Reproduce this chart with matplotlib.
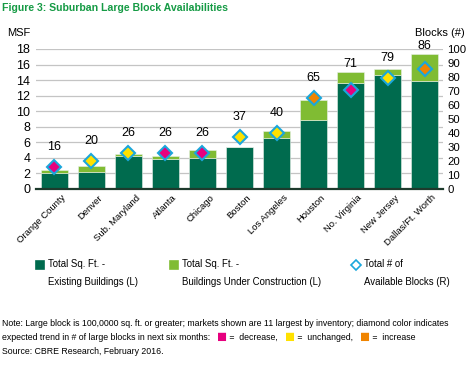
import matplotlib.pyplot as plt
from matplotlib import font_manager
from matplotlib.lines import Line2D
import matplotlib.transforms as mtransforms
import numpy as np

# pick the narrowest family that is installed
names = {(f.name, f.stretch) for f in font_manager.fontManager.ttflist}
if any(n == 'Liberation Sans Narrow' for n, s in names):
    plt.rcParams['font.family'] = ['Liberation Sans Narrow', 'DejaVu Sans']
else:
    plt.rcParams['font.family'] = ['Liberation Sans', 'DejaVu Sans']

# data
markets = ['Orange County', 'Denver', 'Sub. Maryland', 'Atlanta', 'Chicago', 'Boston',
           'Los Angeles', 'Houston', 'No. Virginia', 'New Jersey', 'Dallas/Ft. Worth']
existing = np.array([2.1, 2.2, 4.3, 3.9, 4.0, 5.4, 6.6, 8.9, 13.6, 14.7, 13.9])
total_sf = np.array([2.45, 3.0, 4.5, 4.3, 5.0, 5.4, 7.45, 11.5, 15.0, 15.4, 17.3])
under_construction = total_sf - existing
blocks = np.array([16, 20, 26, 26, 26, 37, 40, 65, 71, 79, 86])
trend = ['decrease', 'unchanged', 'unchanged', 'decrease', 'decrease', 'unchanged',
         'unchanged', 'increase', 'decrease', 'unchanged', 'increase']

dark = '#006b4e'
light = '#80bc33'
cyan = '#1aa7dc'
trend_colors = {'decrease': '#e6007e', 'unchanged': '#ffe100', 'increase': '#f08400'}
title_green = '#169b45'

fig = plt.figure(figsize=(4.66, 3.74), dpi=100)
ax = fig.add_axes([0.077, 0.4947, 0.874, 0.3743])
x = np.arange(len(markets))

ax.bar(x, existing, width=0.73, color=dark, edgecolor='#e8f0e8', linewidth=0.4, zorder=2)
ax.bar(x, under_construction, bottom=existing, width=0.73, color=light,
       edgecolor='#e8f0e8', linewidth=0.4, zorder=2)
ax.set_xlim(-0.5, 10.5)
ax.set_ylim(0, 18)
ax.set_yticks(np.arange(0, 19, 2))
ax.yaxis.grid(True, color='#c4c4c4', linewidth=0.9, zorder=0)
ax.set_axisbelow(True)
for s in ['top', 'right', 'left']:
    ax.spines[s].set_visible(False)
ax.spines['bottom'].set_color('#1d3a2c')
ax.spines['bottom'].set_linewidth(1.6)
ax.spines['bottom'].set_zorder(3)
ax.tick_params(axis='y', length=0, labelsize=9, pad=4)
ax.tick_params(axis='x', length=0, pad=3)
ax.set_xticks(x)
ax.set_xticklabels(markets, rotation=45, ha='right', rotation_mode='anchor', fontsize=6.8)
shift = mtransforms.ScaledTranslation(5 / 72, 0, fig.dpi_scale_trans)
for lab in ax.get_xticklabels():
    lab.set_transform(lab.get_transform() + shift)

ax2 = ax.twinx()
ax2.set_ylim(0, 100)
ax2.set_yticks(np.arange(0, 101, 10))
for s in ax2.spines.values():
    s.set_visible(False)
ax2.tick_params(axis='y', length=0, labelsize=8.2, pad=3)

for i in range(len(markets)):
    ax2.plot(i, blocks[i], marker='D', markersize=7.5, markerfacecolor=trend_colors[trend[i]],
             markeredgecolor=cyan, markeredgewidth=1.5, zorder=5, linestyle='none')
    label_y = max(blocks[i] + 14.3, total_sf[i] * 100 / 18 + 5.7)
    ax2.text(i, label_y, str(blocks[i]), ha='center', va='center', fontsize=9)

fig.text(2 / 466, 1 - 8 / 374, 'Figure 3: Suburban Large Block Availabilities',
         color=title_green, fontsize=7.6, fontweight='bold', va='center', ha='left')
fig.text(30 / 466, 1 - 33 / 374, 'MSF', ha='right', va='center', fontsize=8)
fig.text(465 / 466, 1 - 33 / 374, 'Blocks (#)', ha='right', va='center', fontsize=8)

# legend
legend_items = [(40, 'Total Sq. Ft. -\nExisting Buildings (L)', 's', dark, dark),
                (174, 'Total Sq. Ft. -\nBuildings Under Construction (L)', 's', light, light),
                (356, 'Total # of\nAvailable Blocks (R)', 'D', 'white', cyan)]
for px, text, m, fc, ec in legend_items:
    fig.add_artist(Line2D([px / 466], [1 - 265 / 374], marker=m, markersize=5.5 if m == 's' else 5,
                          markerfacecolor=fc, markeredgecolor=ec, markeredgewidth=1.2,
                          linestyle='none', transform=fig.transFigure))
    fig.text((px + 8) / 466, 1 - 259 / 374, text, ha='left', va='top', fontsize=6.9,
             linespacing=2.0)

# note
fs = 6.3
fig.text(2 / 466, 1 - 323 / 374,
         'Note: Large block is 100,0000 sq. ft. or greater; markets shown are 11 largest by inventory; diamond color indicates',
         ha='left', va='center', fontsize=fs)
fig.text(2 / 466, 1 - 351 / 374, 'Source: CBRE Research, February 2016.',
         ha='left', va='center', fontsize=fs)

fig.canvas.draw()
renderer = fig.canvas.get_renderer()
pieces = [('expected trend in # of large blocks in next six months:   ', None),
          ('■', 'decrease'), (' =  decrease,   ', None),
          ('■', 'unchanged'), (' =  unchanged,   ', None),
          ('■', 'increase'), (' =  increase', None)]
xpos = 2 / 466
for txt, key in pieces:
    color = trend_colors[key] if key else 'black'
    t = fig.text(xpos, 1 - 337 / 374, txt, ha='left', va='center',
                 fontsize=12 if key else fs, color=color)
    bb = t.get_window_extent(renderer)
    xpos += bb.width / fig.bbox.width

fig.savefig('out.png', dpi=100)
